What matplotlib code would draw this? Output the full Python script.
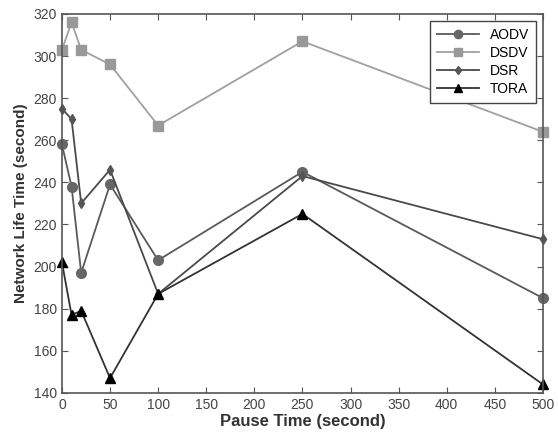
import matplotlib.pyplot as plt

pause_time = [0, 10, 20, 50, 100, 250, 500]
aodv = [258, 238, 197, 239, 203, 245, 185]
dsdv = [303, 316, 303, 296, 267, 307, 264]
dsr = [275, 270, 230, 246, 187, 243, 213]
tora = [202, 177, 179, 147, 187, 225, 144]

plt.rcParams["font.family"] = ["Liberation Sans", "DejaVu Sans"]

fig = plt.figure(figsize=(5.58, 4.36), dpi=100)
ax = fig.add_axes((0.111, 0.099, 0.862, 0.869))

ax.plot(pause_time, aodv, color="#5a5a5a", lw=1.3, marker="o", ms=7,
        mfc="#666666", mec="#666666", label="AODV", clip_on=False)
ax.plot(pause_time, dsdv, color="#a0a0a0", lw=1.3, marker="s", ms=7,
        mfc="#999999", mec="#999999", label="DSDV", clip_on=False)
ax.plot(pause_time, dsr, color="#4a4a4a", lw=1.3, marker="d", ms=5,
        mfc="#555555", mec="#555555", label="DSR", clip_on=False)
ax.plot(pause_time, tora, color="#333333", lw=1.3, marker="^", ms=7.5,
        mfc="black", mec="black", label="TORA", clip_on=False)

ax.set_xlim(0, 500)
ax.set_ylim(140, 320)
ax.set_xticks(range(0, 501, 50))
ax.set_yticks(range(140, 321, 20))
ax.tick_params(direction="in", top=True, right=True, length=4,
               labelsize=10, colors="#555555", labelcolor="#444444")
for s in ax.spines.values():
    s.set_color("#555555")
    s.set_linewidth(1.2)

ax.set_xlabel("Pause Time (second)", fontsize=12, fontweight="bold",
              color="#333333", labelpad=2)
ax.set_ylabel("Network Life Time (second)", fontsize=11, fontweight="bold",
              color="#333333", labelpad=4)

leg = ax.legend(loc="upper right", fontsize=10, fancybox=False,
                framealpha=1, edgecolor="#444444", handlelength=3,
                borderpad=0.5, labelspacing=0.3, markerscale=0.85)
leg.get_frame().set_linewidth(1.0)

fig.savefig("out.png", dpi=100, facecolor="white")
